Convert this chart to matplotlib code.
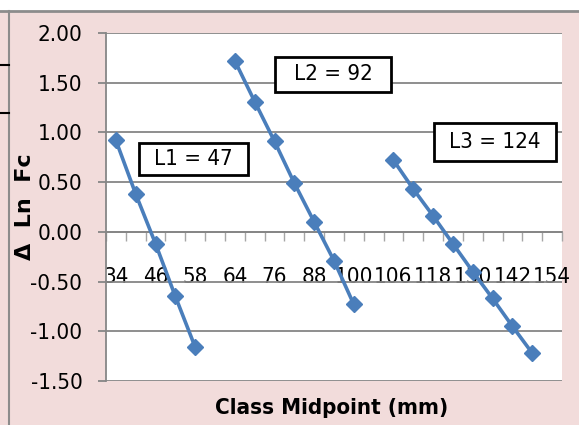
import numpy as np
import matplotlib
matplotlib.use('Agg')
import matplotlib.pyplot as plt
from matplotlib.patches import Rectangle
from matplotlib.lines import Line2D

plt.rcParams['font.family'] = ['DejaVu Sans']
plt.rcParams['font.stretch'] = 'condensed'

# category axis (Excel style line chart, blanks between groups)
categories = ['34', '40', '46', '52', '58', '', '64', '70', '76', '82', '88', '94',
              '100', '', '106', '112', '118', '124', '130', '136', '142', '148', '154']
l1_idx = [0, 1, 2, 3, 4]
l1_val = [0.92, 0.38, -0.12, -0.65, -1.16]
l2_idx = [6, 7, 8, 9, 10, 11, 12]
l2_val = [1.72, 1.31, 0.91, 0.49, 0.10, -0.29, -0.73]
l3_idx = [14, 15, 16, 17, 18, 19, 20, 21]
l3_val = [0.72, 0.43, 0.16, -0.12, -0.40, -0.67, -0.95, -1.22]
box_labels = ['L1 = 47', 'L2 = 92', 'L3 = 124']
yticks = [-1.5, -1.0, -0.5, 0.0, 0.5, 1.0, 1.5, 2.0]

W, H = 579, 425
pink = '#F2DCDB'
blue = '#4A7EBB'
grid = '#868686'

fig = plt.figure(figsize=(W/100., H/100.), dpi=100)
fig.patch.set_facecolor(pink)

def px(x0, y0, x1, y1):
    # pixel box (top-left origin) -> figure fraction rect
    return [x0/W, 1-y1/H, (x1-x0)/W, (y1-y0)/H]

# white strip on top and frame lines from the spreadsheet
fig.patches.append(Rectangle((0, 1-11/H), 1, 11/H, transform=fig.transFigure, fc='white', ec='none'))
fig.lines.append(Line2D([0, 1], [1-11/H, 1-11/H], transform=fig.transFigure, color='#8C8C8C', lw=2))
fig.lines.append(Line2D([9/W, 9/W], [0, 1-11/H], transform=fig.transFigure, color='#8C8C8C', lw=1.5))
for yy in [65, 113]:
    fig.lines.append(Line2D([0, 9/W], [1-yy/H, 1-yy/H], transform=fig.transFigure, color='black', lw=1.5))

ax = fig.add_axes(px(106, 33, 562, 381))
ax.set_facecolor('white')

for idx, val in [(l1_idx, l1_val), (l2_idx, l2_val), (l3_idx, l3_val)]:
    ax.plot(idx, val, '-D', color=blue, lw=2.6, ms=8.5, mec=blue, zorder=5, clip_on=False)

ax.set_xlim(-0.5, len(categories)-0.5)
ax.set_ylim(-1.5, 2.0)
ax.set_yticks(yticks)
ax.set_yticklabels(['%0.2f' % v for v in yticks], fontsize=16)
ax.yaxis.grid(True, color=grid, lw=1.3)
ax.set_axisbelow(True)

for s in ['top', 'right']:
    ax.spines[s].set_visible(False)
ax.spines['left'].set_color(grid)
ax.spines['left'].set_linewidth(1.3)
ax.spines['bottom'].set_position(('data', 0))
ax.spines['bottom'].set_color(grid)
ax.spines['bottom'].set_linewidth(1.3)

ax.tick_params(axis='y', which='major', length=6, width=1.3, color=grid, pad=11)
# category labels every other category, tick marks at category boundaries
ax.set_xticks(np.arange(0, len(categories), 2))
ax.set_xticklabels(categories[::2], fontsize=16)
ax.set_xticks(np.arange(-0.5, len(categories), 1), minor=True)
ax.tick_params(axis='x', which='major', length=0, pad=25)
ax.tick_params(axis='x', which='minor', length=6.5, width=1.0, color='#A6A6A6', direction='out')

fig.text(332/W, 1-408/H, 'Class Midpoint (mm)', ha='center', va='center', fontsize=16, fontweight='bold')
fig.text(25/W, 1-207/H, 'Δ  Ln  Fc', ha='center', va='center', rotation=90, fontsize=16, fontweight='bold',
         stretch='normal')

# text boxes
boxes = [(139, 143, 248, 175), (275, 57, 391, 92), (434, 123, 556, 161)]
for (x0, y0, x1, y1), lab in zip(boxes, box_labels):
    fig.patches.append(Rectangle((x0/W, 1-y1/H), (x1-x0)/W, (y1-y0)/H, transform=fig.transFigure,
                                 fc='white', ec='black', lw=2, zorder=10))
    fig.text((x0+x1)/2./W, 1-(y0+y1)/2./H, lab, ha='center', va='center', fontsize=16, zorder=11)

fig.savefig('out.png', dpi=100, facecolor=fig.get_facecolor())
